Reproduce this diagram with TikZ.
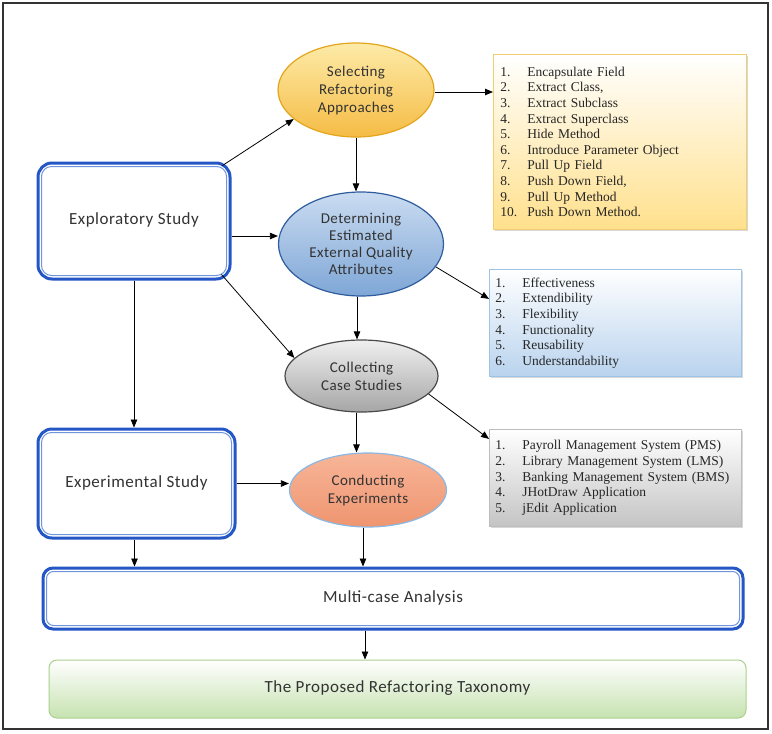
\documentclass[tikz,border=0pt]{standalone}
\usepackage{fontspec}
\setmainfont{Liberation Serif}
\newfontfamily\calfont[LetterSpace=3]{Carlito}
\usetikzlibrary{arrows.meta,shadows,shapes.geometric}
\definecolor{bbord}{HTML}{2457C5}
\definecolor{binner}{HTML}{6F95DC}
\definecolor{txtgray}{HTML}{333333}
\definecolor{selTop}{HTML}{FDEBA8}
\definecolor{selBot}{HTML}{F5BC45}
\definecolor{selBord}{HTML}{E3A51C}
\definecolor{detTop}{HTML}{CADCF1}
\definecolor{detBot}{HTML}{7EA6D6}
\definecolor{detBord}{HTML}{2F5C9E}
\definecolor{colTop}{HTML}{EFEFEF}
\definecolor{colBot}{HTML}{A6A6A6}
\definecolor{colBord}{HTML}{4A4A4A}
\definecolor{conTop}{HTML}{F7B598}
\definecolor{conBot}{HTML}{EF9570}
\definecolor{conBord}{HTML}{8AB8E4}
\definecolor{taxBot}{HTML}{C6E2B0}
\definecolor{taxBord}{HTML}{A9D18E}
\definecolor{yelBot}{HTML}{FFE08C}
\definecolor{yelBord}{HTML}{F0CF70}
\definecolor{bluBot}{HTML}{B9D3EE}
\definecolor{bluBord}{HTML}{9DC3E6}
\definecolor{gryBot}{HTML}{C4C4C4}
\definecolor{gryBord}{HTML}{BDBDBD}
\tikzset{
  arr/.style={-{Triangle[length=8pt,width=6.5pt]}, line width=0.8pt, black},
  studybox/.style={draw=bbord, line width=3pt, fill=white, rounded corners=14pt,
    font=\calfont\fontsize{17}{20}\selectfont, text=txtgray, inner sep=0pt},
  innerln/.style={draw=binner, line width=1pt, rounded corners=10pt},
  oval/.style={ellipse, line width=1.2pt, align=center, inner sep=0pt,
    font=\calfont\fontsize{15}{17}\selectfont, text=txtgray},
  listbox/.style={rectangle, line width=0.8pt, align=left, anchor=north west,
    inner xsep=7pt, inner ysep=0pt, text=black!85,
    font=\fontsize{13.5}{15.6}\selectfont,
    drop shadow={opacity=0.3, shadow xshift=2pt, shadow yshift=-2pt}},
}
\newcommand{\itm}[2]{\makebox[27pt][l]{#1}#2}
\begin{document}
\begin{tikzpicture}[x=1pt,y=-1pt]
\useasboundingbox (0,0) rectangle (772,734);
\fill[white] (0,0) rectangle (772,734);
\draw[line width=2pt, color=black!80] (3,3) rectangle (768,729);

% study boxes
\node[studybox, minimum width=192pt, minimum height=116pt] (expl) at (134,221)
  {\raisebox{4pt}{Exploratory Study}};
\draw[innerln] ([shift={(5pt,-5pt)}]expl.north west) rectangle ([shift={(-5pt,5pt)}]expl.south east);
\node[studybox, minimum width=197pt, minimum height=109pt] (exper) at (136.5,483.5)
  {\raisebox{4pt}{Experimental Study}};
\draw[innerln] ([shift={(5pt,-5pt)}]exper.north west) rectangle ([shift={(-5pt,5pt)}]exper.south east);
\node[studybox, rounded corners=10pt, minimum width=700pt, minimum height=61pt] (multi) at (393,598.5)
  {\raisebox{4pt}{Multi-case Analysis}};
\draw[innerln, rounded corners=7pt] ([shift={(5pt,-5pt)}]multi.north west) rectangle ([shift={(-5pt,5pt)}]multi.south east);
\node[rectangle, rounded corners=8pt, draw=taxBord, line width=1pt, top color=white, bottom color=taxBot,
  minimum width=697pt, minimum height=58pt, font=\calfont\fontsize{17}{20}\selectfont, text=txtgray] (tax) at (397.5,689)
  {\raisebox{4pt}{The Proposed Refactoring Taxonomy}};

% ellipses
\node[oval, draw=selBord, top color=selTop, bottom color=selBot, minimum width=156pt, minimum height=94pt] (sel) at (356,90)
  {Selecting\\[1pt]Refactoring\\[1pt]Approaches};
\node[oval, draw=detBord, top color=detTop, bottom color=detBot, minimum width=165pt, minimum height=104pt] (det) at (361,244)
  {Determining\\Estimated\\External Quality\\Attributes};
\node[oval, draw=colBord, top color=colTop, bottom color=colBot, minimum width=153pt, minimum height=72pt] (col) at (361.5,376)
  {Collecting\\[1pt]Case Studies};
\node[oval, draw=conBord, top color=conTop, bottom color=conBot, minimum width=157pt, minimum height=74pt] (con) at (368,490)
  {Conducting\\[1pt]Experiments};

% list boxes
\node[listbox, draw=yelBord, top color=white, bottom color=yelBot, text width=239pt, minimum height=175pt] (yel) at (493,54)
  {\itm{1.}{Encapsulate Field}\\
   \itm{2.}{Extract Class,}\\
   \itm{3.}{Extract Subclass}\\
   \itm{4.}{Extract Superclass}\\
   \itm{5.}{Hide Method}\\
   \itm{6.}{Introduce Parameter Object}\\
   \itm{7.}{Pull Up Field}\\
   \itm{8.}{Push Down Field,}\\
   \itm{9.}{Pull Up Method}\\
   \itm{10.}{Push Down Method.}};
\node[listbox, draw=bluBord, top color=white, bottom color=bluBot, inner xsep=6pt, text width=240pt, minimum height=107pt] (blu) at (489,269)
  {\itm{1.}{Effectiveness}\\
   \itm{2.}{Extendibility}\\
   \itm{3.}{Flexibility}\\
   \itm{4.}{Functionality}\\
   \itm{5.}{Reusability}\\
   \itm{6.}{Understandability}};
\node[listbox, draw=gryBord, top color=white, bottom color=gryBot, inner xsep=6pt, text width=240pt, minimum height=97pt] (gry) at (489,429)
  {\itm{1.}{Payroll Management System (PMS)}\\
   \itm{2.}{Library Management System (LMS)}\\
   \itm{3.}{Banking Management System (BMS)}\\
   \itm{4.}{JHotDraw Application}\\
   \itm{5.}{jEdit Application}};

% helper coordinates
\coordinate (eS) at ([xshift=-2pt]exper.south);
\coordinate (cS) at ([xshift=-5pt]con.south);
\coordinate (mS) at ([xshift=-3pt]con.south);
\coordinate (dS) at ([xshift=-4pt]det.south);
\coordinate (kS) at ([xshift=-5pt]col.south);
\coordinate (xE) at ([yshift=-15pt]expl.east);
\coordinate (sE) at ([yshift=-2pt]sel.east);

% connectors
\draw[arr] ([shift={(-9pt,-4pt)}]expl.north east) -- (sel.205);
\draw[arr] (xE) -- (xE -| det.west);
\draw[arr] ([shift={(-10pt,6pt)}]expl.south east) -- (col.165);
\draw[arr] (expl.south) -- (expl.south |- exper.north);
\draw[arr] (sel.south) -- (sel.south |- det.north);
\draw[arr] (dS) -- (dS |- col.north);
\draw[arr] (kS) -- (kS |- con.north);
\draw[arr] (exper.east) -- (exper.east -| con.west);
\draw[arr] (eS) -- (eS |- multi.north);
\draw[arr] (cS) -- (cS |- multi.north);
\draw[arr] (mS |- multi.south) -- (mS |- tax.north);
\draw[arr] (sE) -- (sE -| yel.west);
\draw[arr] (det.-17) -- ([yshift=24pt]blu.west);
\draw[arr] (col.-15) -- ([yshift=39pt]gry.west);
\end{tikzpicture}
\end{document}
